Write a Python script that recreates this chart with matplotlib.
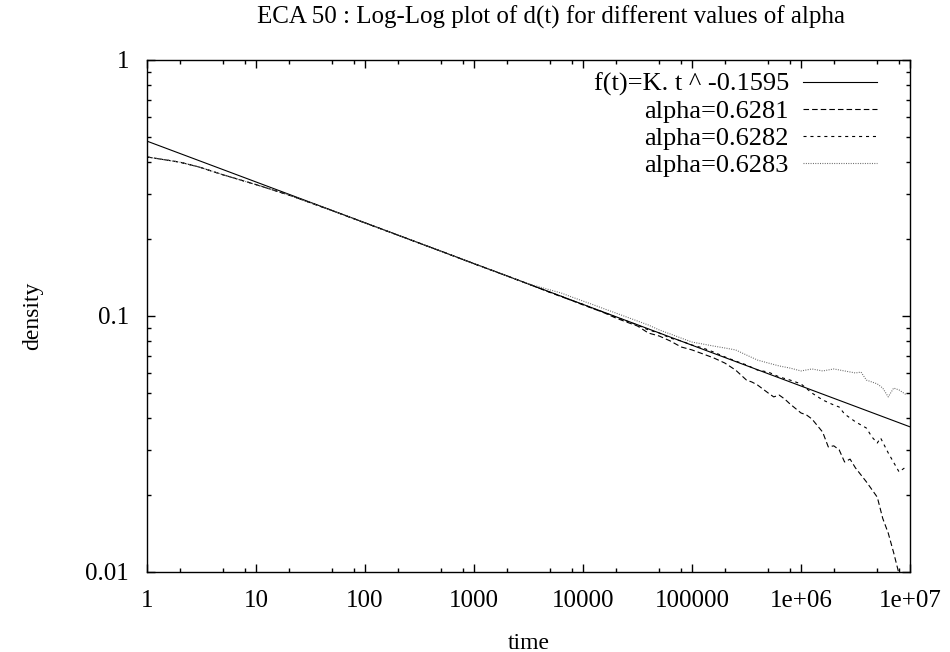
import numpy as np
import matplotlib
matplotlib.use('Agg')
import matplotlib.pyplot as plt
from matplotlib.ticker import FixedLocator, FixedFormatter, NullFormatter

plt.rcParams['font.family'] = ['Liberation Serif', 'DejaVu Serif']
plt.rcParams['font.size'] = 18
plt.rcParams['lines.scale_dashes'] = False

# fitted power law, read at both ends of the x range
fit_t = [1, 1e7]
fit_d = [0.482, 0.0369]

# all three runs lie on top of each other up to a few thousand steps
early_t = [1, 2, 3, 5, 10, 20, 50, 100, 200, 500, 1000, 2000, 3000]
early_d = [0.418, 0.399, 0.382, 0.356, 0.326, 0.297, 0.258, 0.231, 0.207,
           0.179, 0.160, 0.1435, 0.1344]

a1_t = [5000, 6300, 7900, 1e4, 1.26e4, 1.58e4, 2e4, 2.51e4, 3.16e4, 3.98e4,
        5.01e4, 6.31e4, 7.94e4, 1e5, 1.26e5, 1.58e5, 2e5, 2.51e5, 3.16e5,
        3.55e5, 3.98e5, 5.01e5, 5.62e5, 6.31e5, 7.08e5, 7.94e5, 1e6, 1.12e6,
        1.26e6, 1.58e6, 1.78e6, 2e6, 2.24e6, 2.51e6, 2.82e6, 3.16e6, 3.98e6,
        5.01e6, 5.62e6, 6.31e6, 7.08e6, 7.94e6, 8.91e6]
a1_d = [0.1236, 0.1190, 0.1150, 0.1105, 0.1066, 0.1027, 0.0982, 0.0947,
        0.0914, 0.0858, 0.0835, 0.0799, 0.0757, 0.0737, 0.0711, 0.0686,
        0.0655, 0.0615, 0.0562, 0.0552, 0.0538, 0.0500, 0.0483, 0.0491,
        0.0474, 0.0453, 0.0418, 0.0411, 0.0396, 0.0352, 0.0308, 0.0311,
        0.0300, 0.0269, 0.0276, 0.0255, 0.0225, 0.0196, 0.0162, 0.0142,
        0.0119, 0.0098, 0.0085]

a2_t = [5000, 6300, 7900, 1e4, 1.26e4, 1.58e4, 2e4, 2.51e4, 3.16e4, 3.98e4,
        5.01e4, 6.31e4, 7.94e4, 1e5, 1.26e5, 1.58e5, 2e5, 2.51e5, 3.16e5,
        3.98e5, 5.01e5, 6.31e5, 7.94e5, 1e6, 1.26e6, 1.58e6, 2e6, 2.24e6,
        2.51e6, 3.16e6, 3.98e6, 4.47e6, 5.01e6, 5.37e6, 6.31e6, 7.94e6, 8.91e6]
a2_d = [0.1236, 0.1195, 0.1148, 0.1111, 0.1066, 0.1032, 0.0990, 0.0956,
        0.0922, 0.0882, 0.0858, 0.0820, 0.0799, 0.0770, 0.0750, 0.0723,
        0.0692, 0.0667, 0.0644, 0.0615, 0.0604, 0.0578, 0.0562, 0.0543,
        0.0500, 0.0470, 0.0449, 0.0441, 0.0414, 0.0386, 0.0365, 0.0337,
        0.0319, 0.0334, 0.0292, 0.0246, 0.0255]

a3_t = [5000, 6300, 7900, 1e4, 1.26e4, 1.58e4, 2e4, 2.51e4, 3.16e4, 3.98e4,
        5.01e4, 6.31e4, 7.94e4, 1e5, 1.26e5, 1.58e5, 2e5, 2.51e5, 3.16e5,
        3.98e5, 5.01e5, 6.31e5, 7.94e5, 1e6, 1.26e6, 1.58e6, 2e6, 2.51e6,
        3.16e6, 3.55e6, 3.98e6, 5.01e6, 5.62e6, 6.31e6, 7.08e6, 7.94e6, 9.33e6]
a3_d = [0.1264, 0.1230, 0.1186, 0.1144, 0.1104, 0.1065, 0.1027, 0.0991,
        0.0956, 0.0922, 0.0882, 0.0851, 0.0820, 0.0791, 0.0777, 0.0763,
        0.0750, 0.0737, 0.0704, 0.0673, 0.0655, 0.0638, 0.0626, 0.0610,
        0.0621, 0.0610, 0.0621, 0.0610, 0.0599, 0.0604, 0.0562, 0.0543,
        0.0523, 0.0483, 0.0523, 0.0514, 0.0491]

labels = ['f(t)=K. t ^ -0.1595', 'alpha=0.6281', 'alpha=0.6282', 'alpha=0.6283']

xticks = [1, 10, 100, 1000, 10000, 100000, 1e6, 1e7]
xtick_labels = ['1', '10', '100', '1000', '10000', '100000', '1e+06', '1e+07']
yticks = [0.01, 0.1, 1]
ytick_labels = ['0.01', '0.1', '1']

fig = plt.figure(figsize=(9.5, 6.52), dpi=100)
ax = fig.add_axes([0.1547, 0.1227, 0.8032, 0.7853])

ax.plot(fit_t, fit_d, color='black', lw=0.8, label=labels[0])
ax.plot(early_t + a1_t, early_d + a1_d, color='black', lw=0.8,
        dashes=(4.0, 2.2), label=labels[1])
ax.plot(early_t + a2_t, early_d + a2_d, color='black', lw=0.8,
        dashes=(2.2, 2.8), label=labels[2])
ax.plot(early_t + a3_t, early_d + a3_d, color='#666666', lw=0.8,
        dashes=(0.7, 1.0), label=labels[3])

ax.set_xscale('log')
ax.set_yscale('log')
ax.set_xlim(1, 1e7)
ax.set_ylim(0.01, 1)

ax.xaxis.set_major_locator(FixedLocator(xticks))
ax.xaxis.set_major_formatter(FixedFormatter(xtick_labels))
xminor = [m * 10.0 ** k for k in range(7) for m in (2, 5, 8)]
ax.xaxis.set_minor_locator(FixedLocator(xminor))
ax.xaxis.set_minor_formatter(NullFormatter())
ax.yaxis.set_major_locator(FixedLocator(yticks))
ax.yaxis.set_major_formatter(FixedFormatter(ytick_labels))
yminor = [m * 10.0 ** k for k in (-2, -1) for m in range(2, 10)]
ax.yaxis.set_minor_locator(FixedLocator(yminor))
ax.yaxis.set_minor_formatter(NullFormatter())

ax.tick_params(which='both', direction='in', top=True, right=True, width=1)
ax.tick_params(axis='x', which='major', length=6, pad=13)
ax.tick_params(axis='y', which='major', length=6, pad=13)
ax.tick_params(which='minor', length=3)
for s in ax.spines.values():
    s.set_linewidth(1.0)

ax.set_title('ECA 50 : Log-Log plot of d(t) for different values of alpha',
             fontsize=18, pad=26, x=0.53)
ax.set_xlabel('time', fontsize=17, labelpad=15)
ax.set_ylabel('density', fontsize=17, labelpad=30)

ax.legend(loc='upper right', bbox_to_anchor=(0.957, 0.976), frameon=False,
          fontsize=19, markerfirst=False, handlelength=2.8, handletextpad=0.55,
          labelspacing=0.13, borderaxespad=0, borderpad=0)

fig.savefig('out.png', dpi=100)
